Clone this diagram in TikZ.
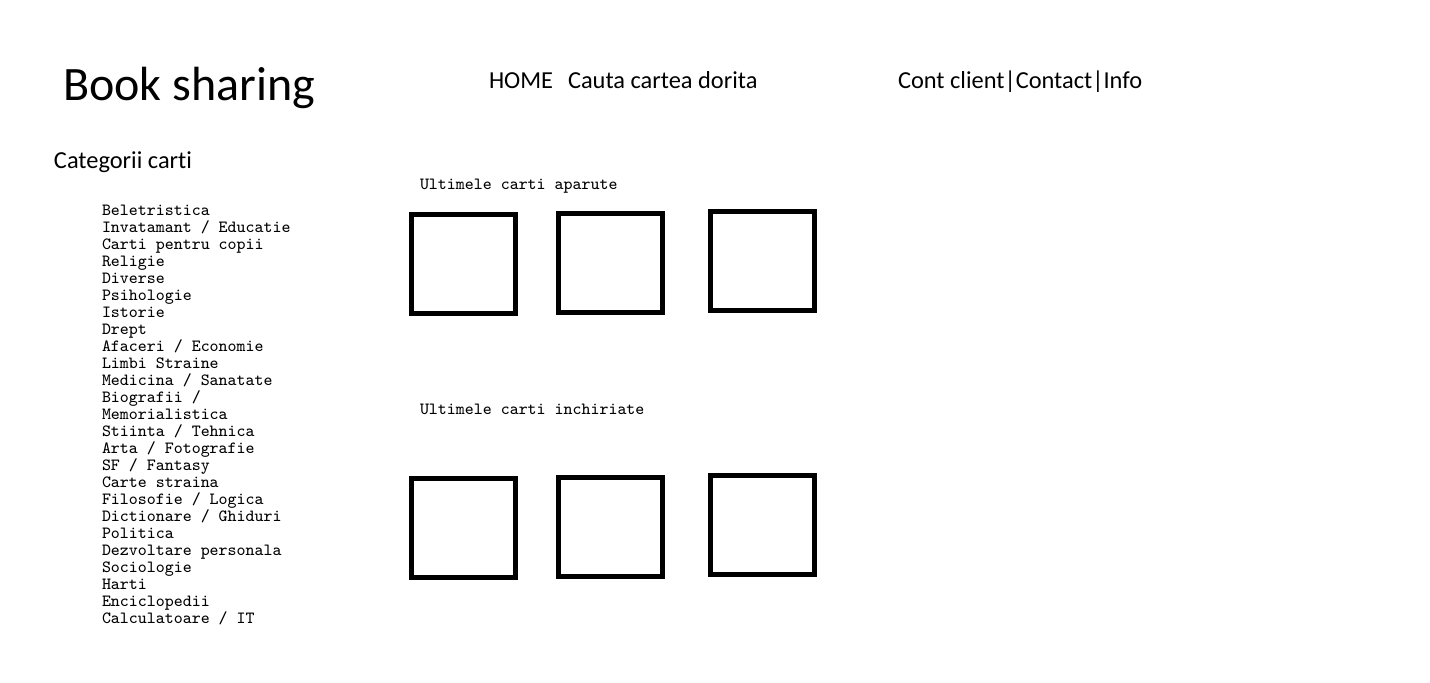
\documentclass[tikz,border=0pt]{standalone}
\usepackage{fontspec}
\setmainfont{Carlito}[Ligatures=NoCommon]
\begin{document}
\begin{tikzpicture}[x=0.5pt,y=-0.5pt,
  txt/.style={anchor=base west,inner sep=0pt,outer sep=0pt},
  title/.style={txt,font=\fontsize{24}{28}\selectfont},
  menu/.style={txt,font=\fontsize{12.2}{14}\selectfont},
  small/.style={txt,font=\ttfamily\fontsize{8.55}{9}\selectfont},
  bookbox/.style={draw,line width=2.25pt,minimum width=52pt,minimum height=49.5pt,inner sep=0pt}]
\useasboundingbox (0,0) rectangle (1430,682);

% header
\node[title] (logo) at (63,100) {Book sharing};
\node[menu] (home) at (489,88) {HOME};
\node[menu] (cauta) at (568,88) {Cauta cartea dorita};
\node[menu] (cont) at (898,88) {Cont client|Contact|Info};

% categorii
\node[menu] (categ) at (54,168) {Categorii carti};
\foreach \cat [count=\i] in {Beletristica,Invatamant / Educatie,Carti pentru copii,Religie,Diverse,Psihologie,Istorie,Drept,Afaceri / Economie,Limbi Straine,Medicina / Sanatate,Biografii /,Memorialistica,Stiinta / Tehnica,Arta / Fotografie,SF / Fantasy,Carte straina,Filosofie / Logica,Dictionare / Ghiduri,Politica,Dezvoltare personala,Sociologie,Harti,Enciclopedii,Calculatoare / IT}
  \node[small] (cat\i) at (102,{215.5+17*(\i-1)}) {\cat};

% ultimele carti
\node[small] (aparute) at (420,189.5) {Ultimele carti aparute};
\node[bookbox] (ap1) at (463.5,264) {};
\node[bookbox] (ap2) at (610.5,263.2) {};
\node[bookbox] (ap3) at (762.5,261) {};

\node[small] (inchiriate) at (420,414.5) {Ultimele carti inchiriate};
\node[bookbox] (in1) at (463.5,527.8) {};
\node[bookbox] (in2) at (610.5,527) {};
\node[bookbox] (in3) at (762.5,525) {};
\end{tikzpicture}
\end{document}
